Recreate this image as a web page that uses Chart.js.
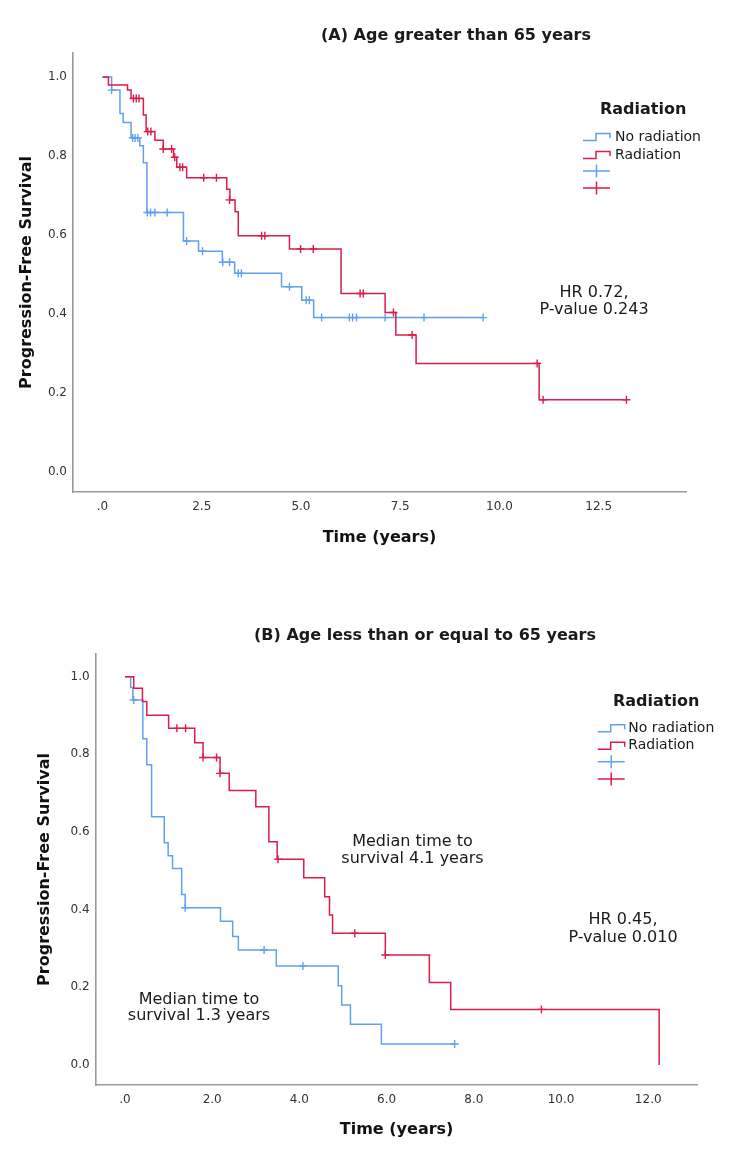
<!DOCTYPE html>
<html><head><meta charset="utf-8">
<script src="https://cdn.jsdelivr.net/npm/chart.js@4.4.0/dist/chart.umd.min.js"></script>
<style>
html,body{margin:0;padding:0;background:#fff;}
#wrap{position:relative;width:750px;height:1163px;background:#fff;}
canvas{position:absolute;left:0;}
#cA{top:0;} #cB{top:575px;}
</style></head><body>
<div id="wrap"><canvas id="cA" width="750" height="575"></canvas><canvas id="cB" width="750" height="588"></canvas></div>
<script>
// ---------- DATA ----------
const seriesNames = ['No radiation', 'Radiation'];

// Panel A: Age greater than 65 years  (Kaplan-Meier steps: time, survival after event)
const aNoRadT = [0, 0.23, 0.44, 0.52, 0.72, 0.94, 1.03, 1.12, 2.04, 2.42, 3.02, 3.33, 4.51, 5.02, 5.32, 9.59];
const aNoRadS = [1.0, 0.967, 0.908, 0.885, 0.846, 0.826, 0.783, 0.657, 0.585, 0.559, 0.531, 0.503, 0.469, 0.435, 0.391, 0.391];
const aNoRadCensT = [0.23, 0.76, 0.82, 0.89, 1.13, 1.21, 1.32, 1.63, 2.12, 2.52, 3.03, 3.2, 3.42, 3.5, 4.71, 5.13, 5.21, 5.52, 6.22, 6.3, 6.4, 7.12, 8.1, 9.59];
const aNoRadCensS = [0.967, 0.846, 0.846, 0.846, 0.657, 0.657, 0.657, 0.657, 0.585, 0.559, 0.531, 0.531, 0.503, 0.503, 0.469, 0.435, 0.435, 0.391, 0.391, 0.391, 0.391, 0.391, 0.391, 0.391];

const aRadT = [0, 0.15, 0.63, 0.72, 1.03, 1.1, 1.32, 1.53, 1.79, 1.87, 2.12, 3.13, 3.21, 3.34, 3.42, 4.71, 6.01, 7.12, 7.39, 7.9, 11.0, 13.2];
const aRadS = [1.0, 0.98, 0.967, 0.946, 0.904, 0.862, 0.84, 0.818, 0.797, 0.772, 0.745, 0.716, 0.689, 0.659, 0.598, 0.565, 0.452, 0.404, 0.347, 0.275, 0.183, 0.183];
const aRadCensT = [0.78, 0.85, 0.92, 1.14, 1.22, 1.53, 1.74, 1.82, 1.95, 2.02, 2.55, 2.87, 3.2, 4.01, 4.09, 4.99, 5.31, 6.49, 6.57, 7.33, 7.8, 10.95, 11.1, 13.2];
const aRadCensS = [0.946, 0.946, 0.946, 0.862, 0.862, 0.818, 0.818, 0.797, 0.772, 0.772, 0.745, 0.745, 0.689, 0.598, 0.598, 0.565, 0.565, 0.452, 0.452, 0.404, 0.347, 0.275, 0.183, 0.183];

// Panel B: Age less than or equal to 65 years
const bNoRadT = [0, 0.13, 0.18, 0.41, 0.5, 0.61, 0.9, 0.99, 1.09, 1.3, 1.38, 2.19, 2.47, 2.6, 3.47, 4.89, 4.97, 5.17, 5.88, 7.56];
const bNoRadS = [1.0, 0.972, 0.94, 0.84, 0.773, 0.639, 0.572, 0.539, 0.506, 0.439, 0.405, 0.37, 0.331, 0.296, 0.255, 0.204, 0.154, 0.105, 0.054, 0.054];
const bNoRadCensT = [0.2, 1.38, 3.19, 4.08, 7.56];
const bNoRadCensS = [0.94, 0.405, 0.296, 0.255, 0.054];

const bRadT = [0, 0.2, 0.4, 0.5, 1.0, 1.6, 1.79, 2.18, 2.39, 3.0, 3.3, 3.49, 4.1, 4.58, 4.69, 4.76, 5.97, 6.98, 7.47, 12.25];
const bRadS = [1.0, 0.97, 0.936, 0.901, 0.867, 0.83, 0.792, 0.751, 0.707, 0.665, 0.575, 0.53, 0.482, 0.433, 0.386, 0.339, 0.283, 0.212, 0.143, 0.0];
const bRadCensT = [1.19, 1.39, 1.79, 2.1, 2.18, 3.51, 5.27, 5.97, 9.55];
const bRadCensS = [0.867, 0.867, 0.792, 0.792, 0.751, 0.53, 0.339, 0.283, 0.143];

// Tick labels
const yTickVals = [0, 0.2, 0.4, 0.6, 0.8, 1.0];
const yTickLabels = ['0.0', '0.2', '0.4', '0.6', '0.8', '1.0'];
const aXTickVals = [0, 2.5, 5, 7.5, 10, 12.5];
const aXTickLabels = ['.0', '2.5', '5.0', '7.5', '10.0', '12.5'];
const bXTickVals = [0, 2, 4, 6, 8, 10, 12];
const bXTickLabels = ['.0', '2.0', '4.0', '6.0', '8.0', '10.0', '12.0'];

// Text
const titleA = '(A) Age greater than 65 years';
const titleB = '(B) Age less than or equal to 65 years';
const xTitle = 'Time (years)';
const yTitle = 'Progression-Free Survival';
const legendTitle = 'Radiation';
const notesA = [['HR 0.72,', 'P-value 0.243']];
const notesB = [['Median time to', 'survival 4.1 years'], ['HR 0.45,', 'P-value 0.010'], ['Median time to', 'survival 1.3 years']];

// ---------- STYLE ----------
const BLUE = '#62a0ee';
const RED = '#dc1c4b';
const FONT = "'DejaVu Sans', 'Liberation Sans', sans-serif";
Chart.defaults.font.family = FONT;

function pts(t, s) { return t.map((v, i) => ({ x: v, y: s[i] })); }

function datasets(nT, nS, nCT, nCS, rT, rS, rCT, rCS) {
  return [
    { label: seriesNames[1], data: pts(rT, rS), showLine: true, stepped: true, borderColor: RED, borderWidth: 1.5, pointRadius: 0, fill: false },
    { label: seriesNames[0], data: pts(nT, nS), showLine: true, stepped: true, borderColor: BLUE, borderWidth: 1.5, pointRadius: 0, fill: false },
    { label: seriesNames[1] + ' censored', data: pts(rCT, rCS), showLine: false, pointStyle: 'cross', pointRadius: 4, borderColor: RED, borderWidth: 1.4 },
    { label: seriesNames[0] + ' censored', data: pts(nCT, nCS), showLine: false, pointStyle: 'cross', pointRadius: 4, borderColor: BLUE, borderWidth: 1.4 }
  ];
}

const decor = {
  id: 'kmDecor',
  afterDraw(chart, args, o) {
    const ctx = chart.ctx;
    ctx.save();
    ctx.fillStyle = '#1a1a1a';
    ctx.textBaseline = 'middle';
    ctx.font = 'bold 16px ' + FONT;
    ctx.textAlign = 'center';
    ctx.fillText(o.title, o.titleX, o.titleY);
    const L = o.legend;
    ctx.font = 'bold 16px ' + FONT;
    ctx.textAlign = 'left';
    ctx.fillText(legendTitle, L.titleX, L.titleY);
    ctx.font = '14px ' + FONT;
    const cols = [BLUE, RED];
    for (let i = 0; i < 2; i++) {
      const y = L.rows[i];
      ctx.strokeStyle = cols[i]; ctx.lineWidth = 1.5;
      ctx.beginPath();
      ctx.moveTo(L.iconX, y + 3.5); ctx.lineTo(L.iconX + 13, y + 3.5); ctx.lineTo(L.iconX + 13, y - 3.5);
      ctx.lineTo(L.iconX + 27, y - 3.5); ctx.lineTo(L.iconX + 27, y + 1);
      ctx.stroke();
      ctx.fillText(seriesNames[i], L.textX, y);
    }
    for (let i = 0; i < 2; i++) {
      const y = L.rows[i + 2];
      ctx.strokeStyle = cols[i]; ctx.lineWidth = 1.5;
      ctx.beginPath();
      ctx.moveTo(L.iconX, y); ctx.lineTo(L.iconX + 27, y);
      ctx.moveTo(L.iconX + 13.5, y - 6.5); ctx.lineTo(L.iconX + 13.5, y + 6.5);
      ctx.stroke();
    }
    ctx.font = '16px ' + FONT;
    ctx.textAlign = 'center';
    o.notes.forEach((lines, k) => {
      const p = o.notePos[k];
      lines.forEach((ln, j) => ctx.fillText(ln, p.x, p.y + j * p.lh));
    });
    ctx.restore();
  }
};

function makeChart(id, cfg) {
  const yPadTop = cfg.yTitleX - 9.6;
  return new Chart(document.getElementById(id), {
    type: 'scatter',
    data: { datasets: cfg.datasets },
    options: {
      responsive: false,
      animation: false,
      events: [],
      layout: { padding: { left: 0, top: cfg.top, right: cfg.right, bottom: 0 } },
      plugins: { legend: { display: false }, tooltip: { enabled: false }, title: { display: false },
        kmDecor: cfg.decor },
      scales: {
        x: {
          type: 'linear', min: cfg.xMin, max: cfg.xMax,
          grid: { display: false, drawTicks: false },
          border: { display: true, color: '#9a9a9a', width: 1.6 },
          afterBuildTicks: s => { s.ticks = cfg.xTickVals.map(v => ({ value: v })); },
          afterFit: s => { s.height = cfg.xHeight; },
          ticks: { padding: 7.5, color: '#333', font: { size: 12 }, maxRotation: 0, autoSkip: false,
            callback: (v, i) => cfg.xTickLabels[i] },
          title: { display: true, text: xTitle, color: '#111', font: { size: 16, weight: 'bold' },
            padding: { top: 0, bottom: cfg.xTitleOff - 9.6 } }
        },
        y: {
          type: 'linear', min: cfg.yMin, max: cfg.yMax,
          grid: { display: false, drawTicks: false },
          border: { display: true, color: '#9a9a9a', width: 1.6 },
          afterBuildTicks: s => { s.ticks = yTickVals.map(v => ({ value: v })); },
          afterFit: s => { s.width = cfg.yWidth; },
          ticks: { padding: 6, color: '#333', font: { size: 12 }, autoSkip: false,
            callback: (v, i) => yTickLabels[i] },
          title: { display: true, text: yTitle, color: '#111', font: { size: 16, weight: 'bold' },
            padding: { top: yPadTop, bottom: 0 } }
        }
      }
    },
    plugins: [decor]
  });
}

makeChart('cA', {
  datasets: datasets(aNoRadT, aNoRadS, aNoRadCensT, aNoRadCensS, aRadT, aRadS, aRadCensT, aRadCensS),
  top: 53, right: 64, yWidth: 73, xHeight: 83,
  xMin: -0.743, xMax: 14.70, yMin: -0.0506, yMax: 1.061,
  xTickVals: aXTickVals, xTickLabels: aXTickLabels,
  yTitleX: 26.7, xTitleOff: 37,
  decor: {
    title: titleA, titleX: 456, titleY: 36,
    legend: { titleX: 600, titleY: 110, iconX: 583, textX: 615, rows: [137, 155, 171, 188] },
    notes: notesA, notePos: [{ x: 594, y: 293, lh: 17 }]
  }
});

makeChart('cB', {
  datasets: datasets(bNoRadT, bNoRadS, bNoRadCensT, bNoRadCensS, bRadT, bRadS, bRadCensT, bRadCensS),
  top: 79, right: 52.5, yWidth: 95.7, xHeight: 78,
  xMin: -0.672, xMax: 13.13, yMin: -0.0518, yMax: 1.0585,
  xTickVals: bXTickVals, xTickLabels: bXTickLabels,
  yTitleX: 45, xTitleOff: 33,
  decor: {
    title: titleB, titleX: 425, titleY: 61,
    legend: { titleX: 613, titleY: 126.7, iconX: 597.7, textX: 628.3, rows: [153.3, 170.7, 186.7, 204] },
    notes: notesB, notePos: [{ x: 412.5, y: 267.3, lh: 16.5 }, { x: 623, y: 345, lh: 18 }, { x: 199, y: 424.5, lh: 16.5 }]
  }
});
</script>
</body></html>
